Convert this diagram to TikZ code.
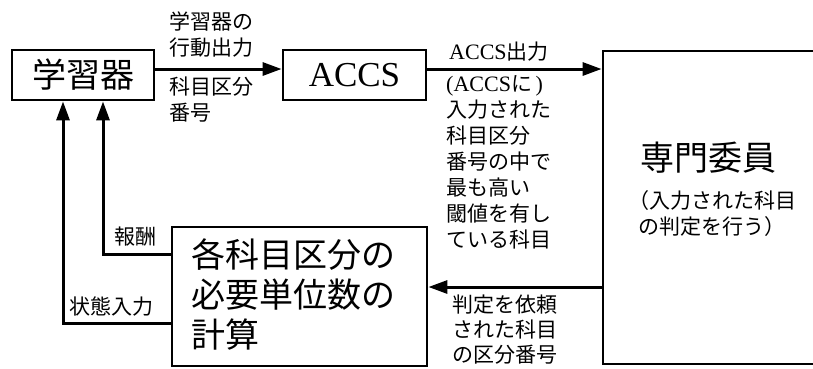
\documentclass[tikz,border=0pt]{standalone}
\usepackage{fontspec}
\setmainfont{Liberation Serif}
\newfontfamily\cjk{Noto Sans CJK JP}
\usetikzlibrary{arrows.meta}
\begin{document}
\begin{tikzpicture}[x=1pt,y=-1pt,
  box/.style={draw,line width=2.8pt,inner sep=0pt},
  conn/.style={line width=3pt,-{Triangle[length=19pt,width=13pt]}},
  lbl/.style={font=\fontsize{21}{26}\selectfont\cjk,align=left,inner sep=0pt,anchor=north west},
  big/.style={font=\fontsize{34}{40}\selectfont\cjk,inner sep=0pt}]
\useasboundingbox (0,0) rectangle (813,368);
% boxes
\node[box,big,minimum width=142pt,minimum height=50pt] (learner) at (83,75) {学習器};
\node[box,minimum width=143pt,minimum height=50pt,font=\fontsize{35}{40}\selectfont] (accs) at (354.5,75) {ACCS};
\node[box,minimum width=215pt,minimum height=313pt] (expert) at (710.5,207.5) {};
\node[box,minimum width=255pt,minimum height=139pt] (calc) at (299.5,296.5) {};
% texts inside boxes
\node[big] (experttitle) at (708,158) {専門委員};
\node[lbl,align=center,anchor=center] (expertsub) at (712,214) {（入力された科目\\の判定を行う）};
\node[big,align=left,anchor=north west] (calctext) at (191,238) {各科目区分の\\必要単位数の\\計算};
% labels
\node[lbl] (l1) at (169,12) {学習器の\\行動出力};
\node[lbl] (l2) at (169,77) {科目区分\\番号};
\node[lbl,font=\fontsize{21}{26}\selectfont\cjk] (l3) at (449,42) {{\rmfamily\fontsize{22}{26}\selectfont ACCS}出力};
\node[lbl] (l4) at (446,75) {{\rmfamily\fontsize{22}{26}\selectfont (ACCS}に{\rmfamily\fontsize{22}{26}\selectfont\,)}\\入力された\\科目区分\\番号の中で\\最も高い\\閾値を有し\\ている科目};
\node[lbl,font=\fontsize{21}{25}\selectfont\cjk] (l5) at (452,295) {判定を依頼\\された科目\\の区分番号};
\node[lbl] (l6) at (114,227) {報酬};
\node[lbl] (l7) at (69,297) {状態入力};
% connectors
\draw[conn] ([yshift=6pt]learner.east) -- ([yshift=6pt]accs.west);
\draw[conn] ([yshift=6pt]accs.east) -- ([yshift=6pt]accs.east -| expert.west);
\draw[conn] ([yshift=9.5pt]calc.east -| expert.west) -- ([yshift=9.5pt]calc.east);
\draw[conn] ([yshift=42.5pt]calc.west) -| ([xshift=20pt]learner.south);
\draw[conn] ([yshift=-26.5pt]calc.west) -| ([xshift=-20pt]learner.south);
\end{tikzpicture}
\end{document}
